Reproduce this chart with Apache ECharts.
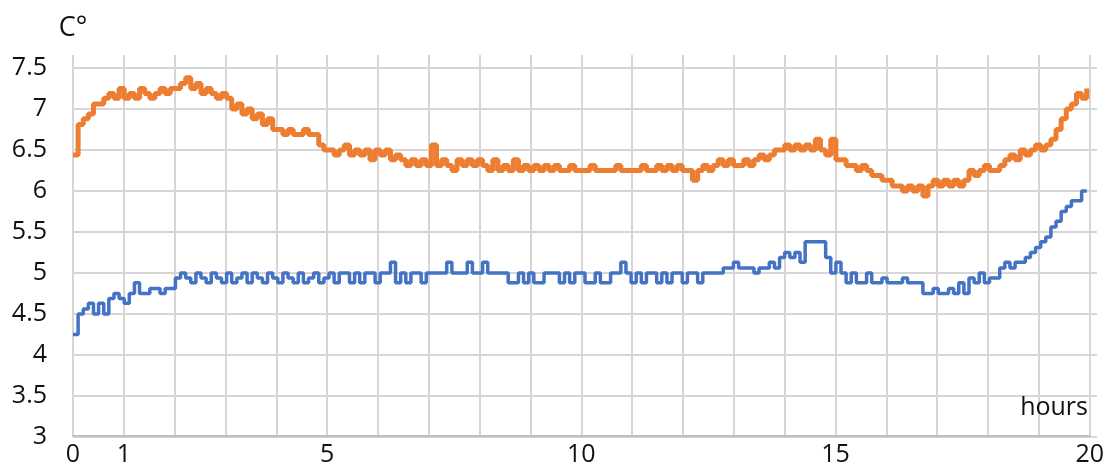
<!DOCTYPE html>
<html>
<head>
<meta charset="utf-8">
<title>Temperature over hours</title>
<script src="https://cdn.jsdelivr.net/npm/echarts@6/dist/echarts.min.js"></script>
<style>
  html, body { margin: 0; padding: 0; background: #fff; }
  #chart { width: 1107px; height: 467px; }
</style>
</head>
<body>
<div id="chart"></div>
<script>
// x ticks shown as labels (gridlines every hour)
const xLabels = [0, 1, 5, 10, 15, 20];
// one sample every 0.1 h, starting at 0 h
const sampleStep = 0.1;

// upper (orange) sensor, °C, rows of one hour each
const orangeTemps = [
  6.44, 6.81, 6.88, 6.94, 7.06, 7.06, 7.13, 7.19, 7.13, 7.25,
  7.13, 7.19, 7.13, 7.25, 7.19, 7.13, 7.19, 7.25, 7.19, 7.25,
  7.25, 7.31, 7.38, 7.25, 7.31, 7.19, 7.25, 7.19, 7.13, 7.19,
  7.13, 7.0, 7.06, 6.94, 7.0, 6.88, 6.94, 6.81, 6.88, 6.75,
  6.75, 6.69, 6.75, 6.69, 6.69, 6.75, 6.69, 6.69, 6.56, 6.5,
  6.5, 6.44, 6.5, 6.56, 6.44, 6.5, 6.44, 6.5, 6.38, 6.5,
  6.44, 6.5, 6.38, 6.44, 6.38, 6.31, 6.38, 6.31, 6.38, 6.31,
  6.56, 6.31, 6.38, 6.31, 6.25, 6.38, 6.31, 6.38, 6.31, 6.38,
  6.31, 6.25, 6.38, 6.25, 6.31, 6.25, 6.38, 6.25, 6.31, 6.25,
  6.31, 6.25, 6.31, 6.25, 6.31, 6.25, 6.25, 6.31, 6.25, 6.25,
  6.25, 6.31, 6.25, 6.25, 6.25, 6.25, 6.31, 6.25, 6.25, 6.25,
  6.25, 6.31, 6.25, 6.25, 6.31, 6.25, 6.31, 6.25, 6.31, 6.25,
  6.25, 6.13, 6.25, 6.31, 6.25, 6.31, 6.38, 6.31, 6.38, 6.31,
  6.31, 6.38, 6.31, 6.38, 6.44, 6.38, 6.44, 6.5, 6.5, 6.56,
  6.5, 6.56, 6.5, 6.56, 6.5, 6.63, 6.5, 6.44, 6.63, 6.38,
  6.38, 6.31, 6.31, 6.25, 6.31, 6.25, 6.19, 6.19, 6.13, 6.13,
  6.06, 6.06, 6.0, 6.06, 6.0, 6.06, 5.94, 6.06, 6.13, 6.06,
  6.13, 6.06, 6.13, 6.06, 6.13, 6.25, 6.19, 6.25, 6.31, 6.25,
  6.25, 6.31, 6.38, 6.44, 6.38, 6.5, 6.44, 6.5, 6.56, 6.5,
  6.56, 6.63, 6.75, 6.88, 7.0, 7.06, 7.19, 7.13, 7.25
];

// lower (blue) sensor, °C
const blueTemps = [
  4.25, 4.5, 4.56, 4.63, 4.5, 4.63, 4.5, 4.69, 4.75, 4.69,
  4.63, 4.75, 4.88, 4.75, 4.75, 4.81, 4.81, 4.75, 4.81, 4.81,
  4.94, 5.0, 4.94, 4.88, 5.0, 4.94, 4.88, 5.0, 4.94, 4.88,
  5.0, 4.88, 4.94, 5.0, 4.88, 5.0, 4.94, 4.88, 5.0, 4.94,
  4.88, 5.0, 4.94, 4.88, 5.0, 4.88, 4.94, 5.0, 4.88, 4.94,
  5.0, 4.88, 5.0, 5.0, 4.88, 5.0, 4.88, 5.0, 5.0, 4.88,
  5.0, 5.0, 5.13, 4.88, 5.0, 4.88, 5.0, 5.0, 4.88, 5.0,
  5.0, 5.0, 5.0, 5.13, 5.0, 5.0, 5.0, 5.13, 5.0, 5.0,
  5.13, 5.0, 5.0, 5.0, 5.0, 4.88, 4.88, 5.0, 4.88, 5.0,
  4.88, 4.88, 5.0, 5.0, 5.0, 4.88, 5.0, 4.88, 5.0, 5.0,
  4.88, 4.88, 5.0, 4.88, 4.88, 5.0, 5.0, 5.13, 5.0, 4.88,
  5.0, 4.88, 5.0, 5.0, 4.88, 5.0, 4.88, 5.0, 5.0, 4.88,
  5.0, 5.0, 4.88, 5.0, 5.0, 5.0, 5.0, 5.06, 5.06, 5.13,
  5.06, 5.06, 5.06, 5.0, 5.06, 5.06, 5.13, 5.06, 5.19, 5.25,
  5.19, 5.25, 5.13, 5.38, 5.38, 5.38, 5.38, 5.19, 5.0, 5.13,
  5.0, 4.88, 5.0, 4.88, 4.88, 5.0, 4.88, 4.88, 4.94, 4.88,
  4.88, 4.88, 4.94, 4.88, 4.88, 4.88, 4.75, 4.75, 4.81, 4.75,
  4.75, 4.81, 4.75, 4.88, 4.75, 4.94, 4.88, 5.0, 4.88, 4.94,
  4.94, 5.06, 5.13, 5.06, 5.13, 5.13, 5.19, 5.25, 5.31, 5.38,
  5.44, 5.56, 5.63, 5.75, 5.81, 5.88, 5.88, 6.0, 6.0
];

// [hour, value] pairs for a value x axis
function toPairs(values) {
  return values.map((v, i) => [+(i * sampleStep).toFixed(2), v]);
}

const gridColor = '#d6d6d6';
const labelFont = { fontFamily: 'Open Sans', fontSize: 25, color: '#111' };

const chart = echarts.init(document.getElementById('chart'));

chart.setOption({
  backgroundColor: '#fff',
  animation: false,
  // grid 0 carries the vertical gridlines (they run a bit higher),
  // grid 1 holds the y scale, the horizontal gridlines and the data
  grid: [
    { left: 73, right: 10, top: 55, bottom: 30 },
    { left: 73, right: 10, top: 68, bottom: 30 }
  ],
  xAxis: [
    {
      type: 'value',
      gridIndex: 0,
      min: 0,
      max: 20,
      interval: 1,
      axisLine: { show: true, lineStyle: { color: '#bfbfbf', width: 2 } },
      axisTick: { show: false },
      splitLine: { show: true, lineStyle: { color: gridColor, width: 2 } },
      axisLabel: {
        ...labelFont,
        margin: 6,
        formatter: v => (xLabels.includes(v) ? String(v) : '')
      }
    },
    { type: 'value', gridIndex: 1, min: 0, max: 20, show: false }
  ],
  yAxis: [
    { type: 'value', gridIndex: 0, min: 3, max: 7.66, show: false },
    {
      type: 'value',
      gridIndex: 1,
      min: 3,
      max: 7.5,
      interval: 0.5,
      name: 'C°',
      nameLocation: 'end',
      nameGap: 26,
      nameTextStyle: { ...labelFont, fontSize: 27, align: 'center' },
      axisLine: { show: false },
      axisTick: { show: false },
      splitLine: { show: true, lineStyle: { color: gridColor, width: 2 } },
      axisLabel: { ...labelFont, margin: 26 }
    }
  ],
  graphic: [{
    type: 'text',
    right: 19,
    top: 395,
    z: 100,
    style: { text: 'hours', font: '25px "Open Sans"', fill: '#111' }
  }],
  series: [
    {
      name: 'upper',
      type: 'line',
      xAxisIndex: 1,
      yAxisIndex: 1,
      step: 'end',
      showSymbol: false,
      lineStyle: { color: '#ed7d31', width: 5 },
      data: toPairs(orangeTemps)
    },
    {
      name: 'lower',
      type: 'line',
      xAxisIndex: 1,
      yAxisIndex: 1,
      step: 'end',
      showSymbol: false,
      lineStyle: { color: '#4472c4', width: 3.5 },
      data: toPairs(blueTemps)
    }
  ]
});
</script>
</body>
</html>
